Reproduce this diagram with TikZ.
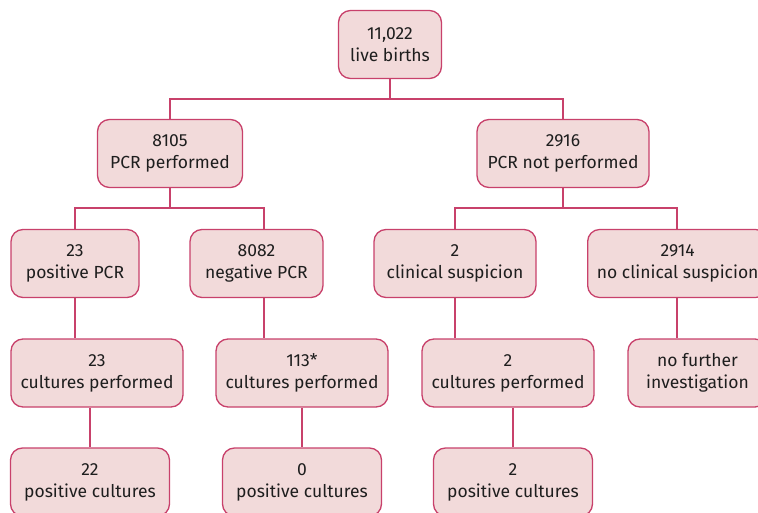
\documentclass[tikz,border=0pt]{standalone}
\usepackage{fontspec}
\setmainfont{Fira Sans}
\usetikzlibrary{positioning}
\definecolor{rosefill}{HTML}{F2DADA}
\definecolor{roseline}{HTML}{C8416B}
\definecolor{textgray}{HTML}{1E1E1E}

\begin{document}
\begin{tikzpicture}[
    x=1pt, y=-1pt,
    box/.style={draw=roseline, fill=rosefill, line width=1.3pt, rounded corners=12pt, minimum height=68pt, inner xsep=9pt, align=center, text=textgray, font=\fontsize{17.5}{22}\selectfont},
    link/.style={draw=roseline, line width=1.1pt}
]
\useasboundingbox (0,0) rectangle (758,513);

% Births
\node[box, minimum width=103pt] (births) at (390,44.5) {11,022\\live births};

% PCR split
\node[box, minimum width=145pt] (pcr) at (170,153.5) {8105\\PCR performed};
\node[box, minimum width=172pt] (nopcr) at (563,153.5) {2916\\PCR not performed};

% PCR result
\node[box, minimum width=128pt] (pos) at (75,263.5) {23\\positive PCR};
\node[box, minimum width=133pt] (neg) at (256.5,263.5) {8082\\negative PCR};
\node[box, minimum width=162pt] (susp) at (455,263.5) {2\\clinical suspicion};
\node[box, anchor=west, minimum width=180pt] (nosusp) at (587,263.5) {2914\\no clinical suspicion};

% Cultures
\node[box, minimum width=172pt] (culpos) at (97,373) {23\\cultures performed};
\node[box, minimum width=172pt] (culneg) at (302,373) {113*\\cultures performed};
\node[box, minimum width=172pt] (culsusp) at (508,373) {2\\cultures performed};
\node[box, minimum width=139pt] (nofurther) at (697.5,373) {no further\\investigation};

% Culture results
\node[box, minimum width=159pt] (respos) at (90,482) {22\\positive cultures};
\node[box, minimum width=159pt] (resneg) at (302,482) {0\\positive cultures};
\node[box, minimum width=159pt] (ressusp) at (513,482) {2\\positive cultures};

% Connectors
\coordinate (forktop) at (390,99);
\coordinate (forkpcr) at (170,208);
\coordinate (forknopcr) at (563,208);
\coordinate (negtop) at ([xshift=7.5pt]neg.north);
\coordinate (negbot) at ([xshift=7.5pt]neg.south);
\coordinate (nosusptop) at (677,229.5);
\coordinate (nosuspbot) at (677,297.5);
\draw[link] (births.south) -- (forktop) -| (pcr.north);
\draw[link] (forktop) -| (nopcr.north);
\draw[link] (pcr.south) -- (forkpcr) -| (pos.north);
\draw[link] (forkpcr) -| (negtop);
\draw[link] (nopcr.south) -- (forknopcr) -| (susp.north);
\draw[link] (forknopcr) -| (nosusptop);

\draw[link] (pos.south) -- (pos.south |- culpos.north);
\draw[link] (negbot) -- (negbot |- culneg.north);
\draw[link] (susp.south) -- (susp.south |- culsusp.north);
\draw[link] (nosuspbot) -- (nosuspbot |- nofurther.north);

\draw[link] (culpos.south -| respos.north) -- (respos.north);
\draw[link] (culneg.south) -- (resneg.north);
\draw[link] (culsusp.south -| ressusp.north) -- (ressusp.north);

\end{tikzpicture}
\end{document}
